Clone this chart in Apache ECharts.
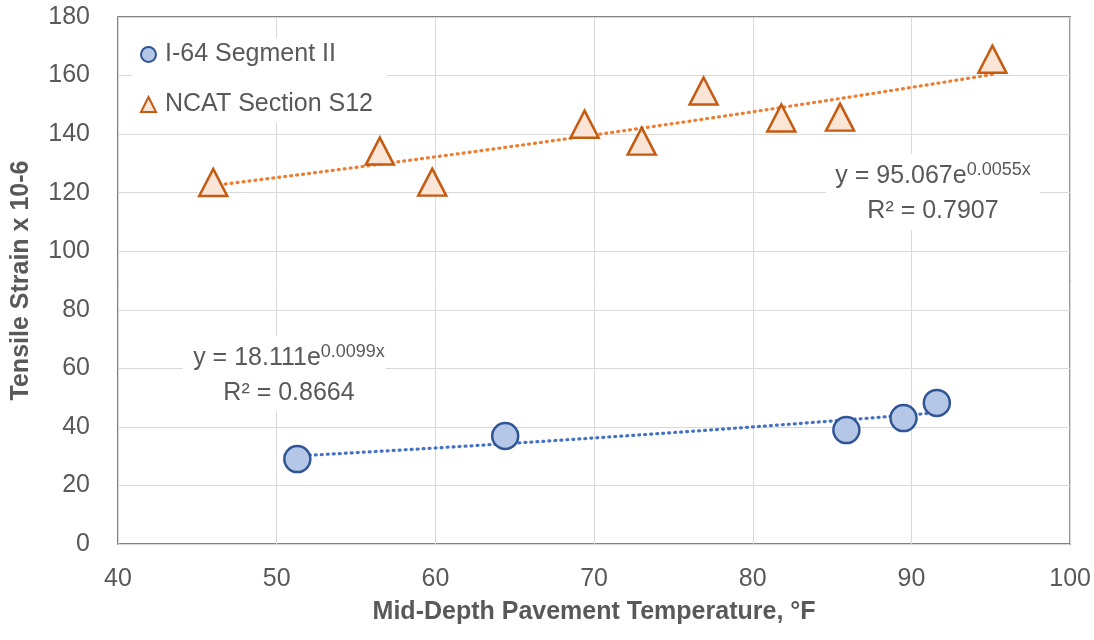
<!DOCTYPE html>
<html>
<head>
<meta charset="utf-8">
<script src="https://cdn.jsdelivr.net/npm/echarts@6/dist/echarts.min.js"></script>
<style>
html,body{margin:0;padding:0;background:#fff;}
#chart{width:1094px;height:640px;}
</style>
</head>
<body>
<div id="chart"></div>
<script>
// ---- Data ----
const i64Temp   = [51.3, 64.4, 85.9, 89.5, 91.6];
const i64Strain = [29.0, 36.9, 38.9, 43.0, 48.2];

const ncatTemp   = [46.0, 56.5, 59.8, 69.4, 73.0, 76.9, 81.8, 85.5, 95.1];
const ncatStrain = [123.5, 134.2, 123.6, 143.4, 137.6, 154.7, 145.5, 145.8, 165.6];

// Fitted exponential trendlines as printed on the chart: y = a * e^(b x)
const i64Fit  = {a: '18.111', b: '0.0099', r2: '0.8664'};
const ncatFit = {a: '95.067', b: '0.0055', r2: '0.7907'};

const seriesNames = ['I-64 Segment II', 'NCAT Section S12'];
const xTicks = [40, 50, 60, 70, 80, 90, 100];
const yTicks = [0, 20, 40, 60, 80, 100, 120, 140, 160, 180];

function trend(fit, xs) {
  const a = parseFloat(fit.a), b = parseFloat(fit.b);
  const lo = Math.min(...xs), hi = Math.max(...xs);
  const pts = [];
  const n = 40;
  for (let i = 0; i <= n; i++) {
    const x = lo + (hi - lo) * i / n;
    pts.push([x, a * Math.exp(b * x)]);
  }
  return pts;
}

const FONT = '"Liberation Sans", Arial, sans-serif';
const GRAY = '#595959';

const chart = echarts.init(document.getElementById('chart'), null, {renderer: 'canvas'});

function eqGraphic(fit, box, cx, y1, y2) {
  return [
    {type: 'rect', z: 100, shape: box, style: {fill: '#ffffff'}},
    {type: 'text', z: 101, x: cx, y: y1,
     style: {
       text: '{m|y = ' + fit.a + 'e}{s|' + fit.b + 'x}',
       rich: {
         m: {fontFamily: FONT, fontSize: 25, fill: GRAY},
         s: {fontFamily: FONT, fontSize: 18, fill: GRAY, verticalAlign: 'top', padding: [0, 0, 12, 0]}
       },
       align: 'center', verticalAlign: 'middle'
     }},
    {type: 'text', z: 101, x: cx, y: y2,
     style: {text: 'R² = ' + fit.r2, fontFamily: FONT, fontSize: 25, fill: GRAY, align: 'center', verticalAlign: 'middle'}}
  ];
}

chart.setOption({
  animation: false,
  backgroundColor: '#ffffff',
  grid: {left: 118, right: 21, top: 17, bottom: 96, show: true, borderColor: GRAY, borderWidth: 1.5, backgroundColor: 'transparent'},
  legend: {
    data: seriesNames,
    orient: 'vertical',
    left: 132, top: 38,
    itemGap: 25,
    itemWidth: 15, itemHeight: 15,
    backgroundColor: '#ffffff',
    padding: [4, 14, 6, 8],
    textStyle: {fontFamily: FONT, fontSize: 25, color: GRAY, padding: [0, 0, 0, 4]}
  },
  xAxis: {
    type: 'value', min: 40, max: 100, interval: 10,
    name: 'Mid-Depth Pavement Temperature, °F',
    nameLocation: 'middle', nameGap: 56,
    nameTextStyle: {fontFamily: FONT, fontSize: 25, fontWeight: 'bold', color: GRAY},
    axisLine: {show: false}, axisTick: {show: false},
    axisLabel: {fontFamily: FONT, fontSize: 25, color: GRAY, margin: 23},
    splitLine: {show: true, lineStyle: {color: '#D9D9D9', width: 1}}
  },
  yAxis: {
    type: 'value', min: 0, max: 180, interval: 20,
    name: 'Tensile Strain x 10-6',
    nameLocation: 'middle', nameGap: 84,
    nameTextStyle: {fontFamily: FONT, fontSize: 25, fontWeight: 'bold', color: GRAY},
    axisLine: {show: false}, axisTick: {show: false},
    axisLabel: {fontFamily: FONT, fontSize: 25, color: GRAY, margin: 28},
    splitLine: {show: true, lineStyle: {color: '#D9D9D9', width: 1}}
  },
  series: [
    {
      name: 'I-64 trend', type: 'line', data: trend(i64Fit, i64Temp),
      showSymbol: false, symbol: 'none', smooth: false, z: 3,
      lineStyle: {color: '#4472C4', width: 3.2, type: [1, 5], cap: 'round'}
    },
    {
      name: 'NCAT trend', type: 'line', data: trend(ncatFit, ncatTemp),
      showSymbol: false, symbol: 'none', smooth: false, z: 3,
      lineStyle: {color: '#ED7D31', width: 3.2, type: [1, 5], cap: 'round'}
    },
    {
      name: seriesNames[0], type: 'scatter', z: 4,
      data: i64Temp.map((x, i) => [x, i64Strain[i]]),
      symbol: 'circle', symbolSize: 26,
      itemStyle: {color: '#B4C7E7', borderColor: '#2F5597', borderWidth: 2.5, opacity: 1}
    },
    {
      name: seriesNames[1], type: 'scatter', z: 4,
      data: ncatTemp.map((x, i) => [x, ncatStrain[i]]),
      symbol: 'triangle', symbolSize: [28, 27],
      itemStyle: {color: '#FBE5D6', borderColor: '#C55A11', borderWidth: 2.5, opacity: 1}
    }
  ],
  graphic: [].concat(
    eqGraphic(ncatFit, {x: 826, y: 154, width: 214, height: 76}, 933, 176, 211),
    eqGraphic(i64Fit, {x: 183, y: 336, width: 203, height: 76}, 289, 358, 393)
  )
});
</script>
</body>
</html>
